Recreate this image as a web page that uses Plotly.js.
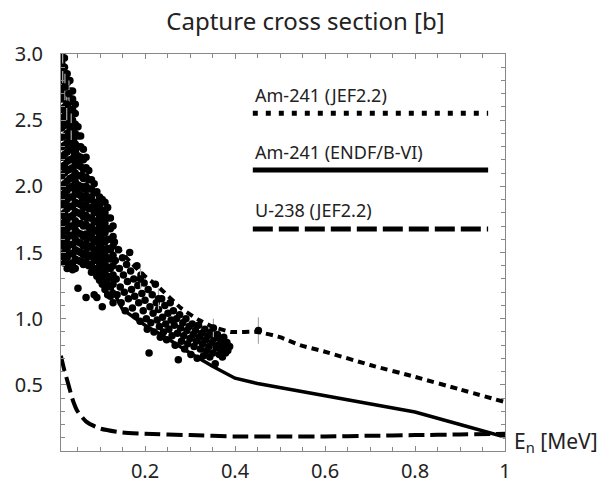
<!DOCTYPE html>
<html>
<head>
<meta charset="utf-8">
<script src="https://cdn.plot.ly/plotly-3.0.1.min.js"></script>
<style>html,body{margin:0;padding:0;background:#fff;}#chart{width:611px;height:485px;}</style>
</head>
<body>
<div id="chart"></div>
<script>
// Energy axis ticks
const xTickVals = [0.2, 0.4, 0.6, 0.8, 1];
const xTickText = ['0.2', '0.4', '0.6', '0.8', '1'];
const yTickVals = [0.5, 1.0, 1.5, 2.0, 2.5, 3.0];

// Evaluated curves
const jefAmX = [0.013,0.02,0.03,0.05,0.07,0.1,0.13,0.17,0.2,0.23,0.28,0.32,0.35,0.39,0.45,0.5,0.544,0.6,0.7,0.8,0.9,1.0];
const jefAmY = [3.1,2.9,2.65,2.25,2.0,1.75,1.57,1.42,1.32,1.24,1.08,0.99,0.94,0.9,0.9,0.86,0.80,0.75,0.65,0.56,0.465,0.37];

const endfAmX = [0.013,0.02,0.03,0.05,0.07,0.1,0.15,0.2,0.25,0.3,0.35,0.4,0.45,0.5,0.544,0.6,0.7,0.8,0.9,1.0];
const endfAmY = [3.2,2.75,2.45,2.0,1.72,1.4,1.07,0.95,0.85,0.74,0.64,0.55,0.51,0.48,0.455,0.42,0.36,0.295,0.2,0.105];

const jefUX = [0.013,0.02,0.03,0.04,0.05,0.07,0.1,0.15,0.2,0.3,0.4,0.5,0.6,0.7,0.8,0.9,1.0];
const jefUY = [0.72,0.62,0.5,0.38,0.3,0.22,0.17,0.14,0.13,0.12,0.11,0.11,0.11,0.115,0.12,0.125,0.13];

// Measured points, low-energy dense region: [energy, [cross sections...]]
const measuredLow = [
 [0.015,[3.0,2.93,2.86,2.8,2.72,2.66,2.58,2.5,2.44,2.37,2.3,2.22,2.15,2.08,2.0,1.93,1.86,1.78,1.7,1.62,1.55,1.47]],
 [0.021,[2.97,2.9,2.82,2.75,2.68,2.6,2.53,2.46,2.38,2.31,2.24,2.16,2.1,2.02,1.95,1.88,1.8,1.73,1.66,1.58,1.5,1.42]],
 [0.027,[2.85,2.78,2.7,2.62,2.55,2.48,2.4,2.33,2.26,2.19,2.12,2.04,1.97,1.9,1.83,1.75,1.68,1.61,1.53,1.46,1.38]],
 [0.033,[2.8,2.72,2.64,2.57,2.5,2.42,2.35,2.28,2.2,2.13,2.06,1.99,1.92,1.85,1.77,1.7,1.63,1.56,1.49,1.41]],
 [0.039,[2.72,2.66,2.58,2.5,2.43,2.36,2.28,2.21,2.14,2.07,2.0,1.92,1.85,1.78,1.7,1.63,1.56,1.49,1.42,1.37]],
 [0.045,[2.62,2.55,2.47,2.4,2.32,2.25,2.18,2.1,2.03,1.96,1.88,1.81,1.74,1.67,1.6,1.52,1.45,1.38]],
 [0.051,[2.45,2.38,2.3,2.23,2.16,2.08,2.01,1.94,1.87,1.8,1.72,1.65,1.58,1.51,1.44,1.23]],
 [0.057,[2.38,2.3,2.22,2.15,2.08,2.0,1.93,1.86,1.79,1.72,1.64,1.57,1.5,1.43]],
 [0.063,[2.28,2.2,2.13,2.06,1.98,1.91,1.84,1.77,1.7,1.62,1.55,1.48,1.41]],
 [0.069,[2.22,2.14,2.07,2.0,1.93,1.86,1.78,1.71,1.64,1.57,1.5,1.43,1.16]],
 [0.075,[2.12,2.05,1.98,1.9,1.83,1.76,1.69,1.61,1.54,1.47,1.4]],
 [0.081,[2.05,1.98,1.91,1.84,1.76,1.69,1.62,1.55,1.48,1.41,1.35]],
 [0.087,[2.02,1.95,1.87,1.8,1.73,1.66,1.58,1.51,1.44,1.37,1.18]],
 [0.093,[1.96,1.88,1.81,1.74,1.67,1.6,1.52,1.45,1.38,1.32,1.16]],
 [0.099,[1.92,1.85,1.78,1.7,1.63,1.56,1.49,1.42,1.35,1.29]],
 [0.105,[1.9,1.82,1.75,1.68,1.6,1.53,1.46,1.39,1.32,1.26,1.09]],
 [0.111,[1.88,1.8,1.72,1.65,1.58,1.5,1.43,1.36,1.29,1.22]],
 [0.117,[1.84,1.76,1.68,1.6,1.53,1.46,1.39,1.32,1.25,1.18]],
 [0.123,[1.76,1.68,1.6,1.52,1.45,1.38,1.31,1.24,1.17]],
 [0.129,[1.7,1.62,1.55,1.48,1.4,1.33,1.26,1.19,1.12]]
];
// Measured points, higher-energy band: [energy, cross section]
const measuredHigh = [
 [0.132,1.58],[0.134,1.44],[0.136,1.3],[0.138,1.18],[0.141,1.52],[0.143,1.38],[0.145,1.24],[0.147,1.12],
 [0.15,1.46],[0.152,1.33],[0.154,1.2],[0.156,1.06],[0.159,1.41],[0.161,1.28],[0.163,1.15],[0.166,1.5],
 [0.168,1.36],[0.17,1.22],[0.172,1.08],[0.175,1.3],[0.177,1.17],[0.179,1.02],[0.182,1.4],[0.184,1.25],
 [0.186,1.12],[0.189,0.98],[0.191,1.33],[0.193,1.19],[0.196,1.06],[0.198,1.27],[0.2,1.14],[0.203,1.0],
 [0.205,0.92],[0.207,1.22],[0.209,0.74],[0.211,1.09],[0.213,0.97],[0.216,1.18],[0.218,1.04],[0.22,0.9],
 [0.223,1.26],[0.225,1.12],[0.227,0.99],[0.23,1.07],[0.232,0.94],[0.234,0.86],[0.237,1.15],[0.239,1.01],
 [0.241,0.9],[0.244,1.1],[0.246,0.96],[0.248,0.84],[0.251,1.04],[0.253,0.92],[0.256,1.12],[0.258,0.99],
 [0.26,0.87],[0.263,1.06],[0.265,0.95],[0.267,0.8],[0.27,1.0],[0.272,0.89],[0.274,0.69],[0.277,1.03],
 [0.279,0.93],[0.281,0.83],[0.284,0.97],[0.286,0.87],[0.288,0.77],[0.291,1.0],[0.293,0.91],[0.295,0.81],
 [0.298,0.94],[0.3,0.85],[0.302,0.73],[0.305,0.96],[0.307,0.88],[0.309,0.79],[0.312,0.91],[0.314,0.83],
 [0.316,0.7],[0.319,0.95],[0.321,0.86],[0.323,0.77],[0.326,0.89],[0.328,0.81],[0.33,0.72],[0.333,0.92],
 [0.335,0.84],[0.337,0.76],[0.34,0.87],[0.342,0.79],[0.344,0.71],[0.347,0.9],[0.349,0.82],[0.351,0.74],
 [0.354,0.85],[0.356,0.66],[0.358,0.78],[0.361,0.88],[0.363,0.8],[0.365,0.73],[0.368,0.84],[0.37,0.77],
 [0.372,0.71],[0.375,0.86],[0.377,0.8],[0.379,0.74],[0.382,0.82],[0.384,0.76],[0.388,0.79]
];
// Points whose error bars are visible
const errX = [0.017, 0.022, 0.026, 0.031, 0.036, 0.19, 0.23, 0.352, 0.452];
const errY = [2.9, 2.75, 2.62, 2.7, 2.45, 1.3, 1.15, 0.93, 0.91];
const errVal = [0.12, 0.1, 0.12, 0.1, 0.1, 0.08, 0.08, 0.07, 0.1];

const legendNames = ['Am-241 (JEF2.2)', 'Am-241 (ENDF/B-VI)', 'U-238 (JEF2.2)'];

const mx = [], my = [];
measuredLow.forEach(([x, ys]) => ys.forEach(y => { mx.push(x); my.push(y); }));
measuredHigh.forEach(([x, y]) => { mx.push(x); my.push(y); });

const traces = [
  {x: jefUX, y: jefUY, mode: 'lines', line: {color: '#000', width: 4, dash: '16px,6px', shape: 'spline', smoothing: 0.6}, hoverinfo: 'skip'},
  {x: endfAmX, y: endfAmY, mode: 'lines', line: {color: '#000', width: 3.5}, hoverinfo: 'skip'},
  {x: jefAmX, y: jefAmY, mode: 'lines', line: {color: '#000', width: 4, dash: '7px,5px', shape: 'spline', smoothing: 0.5}, hoverinfo: 'skip'},
  {x: mx, y: my, mode: 'markers', marker: {color: '#000', size: 7.5}},
  {x: errX, y: errY, mode: 'markers', marker: {color: '#000', size: 7.5},
   error_y: {type: 'data', array: errVal, color: '#aaa', thickness: 1.2, width: 0}}
];

const lx0 = 0.432, lx1 = 0.962;
const layout = {
  width: 611, height: 485,
  margin: {l: 61, r: 106, t: 54, b: 34},
  paper_bgcolor: '#fff', plot_bgcolor: '#fff',
  showlegend: false,
  font: {family: 'Noto Sans, sans-serif', color: '#222'},
  title: {text: 'Capture cross section [b]', x: 0.5, xref: 'container', y: 0.955, yanchor: 'middle',
          font: {size: 24, color: '#222', family: 'Noto Sans, sans-serif'}},
  xaxis: {range: [0.0133, 1], tickmode: 'array', tickvals: xTickVals, ticktext: xTickText,
          showgrid: false, zeroline: false, showline: true, linecolor: '#888', linewidth: 1,
          mirror: 'ticks', ticks: 'inside', ticklen: 5, tickcolor: '#888',
          tickfont: {size: 20, color: '#222'}, ticklabelstandoff: 2,
          minor: {tickmode: 'linear', tick0: 0, dtick: 0.05, ticks: 'inside', ticklen: 4, tickcolor: '#888', showgrid: false}},
  yaxis: {range: [0, 3], tickmode: 'array', tickvals: yTickVals, tickformat: '.1f',
          showgrid: false, zeroline: false, showline: true, linecolor: '#888', linewidth: 1,
          mirror: 'ticks', ticks: 'inside', ticklen: 5, tickcolor: '#888',
          tickfont: {size: 20, color: '#222'}, ticklabelstandoff: 13,
          minor: {tickmode: 'linear', tick0: 0, dtick: 0.1, ticks: 'inside', ticklen: 4, tickcolor: '#888', showgrid: false}},
  shapes: [
    {type: 'line', xref: 'paper', yref: 'paper', x0: lx0, x1: lx1, y0: 0.851, y1: 0.851, line: {color: '#000', width: 5, dash: '5px,8px'}},
    {type: 'line', xref: 'paper', yref: 'paper', x0: lx0, x1: lx1, y0: 0.708, y1: 0.708, line: {color: '#000', width: 5}},
    {type: 'line', xref: 'paper', yref: 'paper', x0: lx0, x1: lx1, y0: 0.559, y1: 0.559, line: {color: '#000', width: 5, dash: '20px,6px'}}
  ],
  annotations: [
    {text: legendNames[0], xref: 'paper', yref: 'paper', x: lx0, y: 0.897, xanchor: 'left', yanchor: 'middle', showarrow: false, font: {size: 18, color: '#222'}},
    {text: legendNames[1], xref: 'paper', yref: 'paper', x: lx0, y: 0.753, xanchor: 'left', yanchor: 'middle', showarrow: false, font: {size: 18, color: '#222'}},
    {text: legendNames[2], xref: 'paper', yref: 'paper', x: lx0, y: 0.607, xanchor: 'left', yanchor: 'middle', showarrow: false, font: {size: 18, color: '#222'}},
    {text: 'E<sub>n</sub> [MeV]', xref: 'paper', yref: 'paper', x: 1.015, y: 0.022, xanchor: 'left', yanchor: 'middle', showarrow: false, font: {size: 21, color: '#222'}}
  ]
};

Plotly.newPlot('chart', traces, layout, {displayModeBar: false, staticPlot: true});
</script>
</body>
</html>
